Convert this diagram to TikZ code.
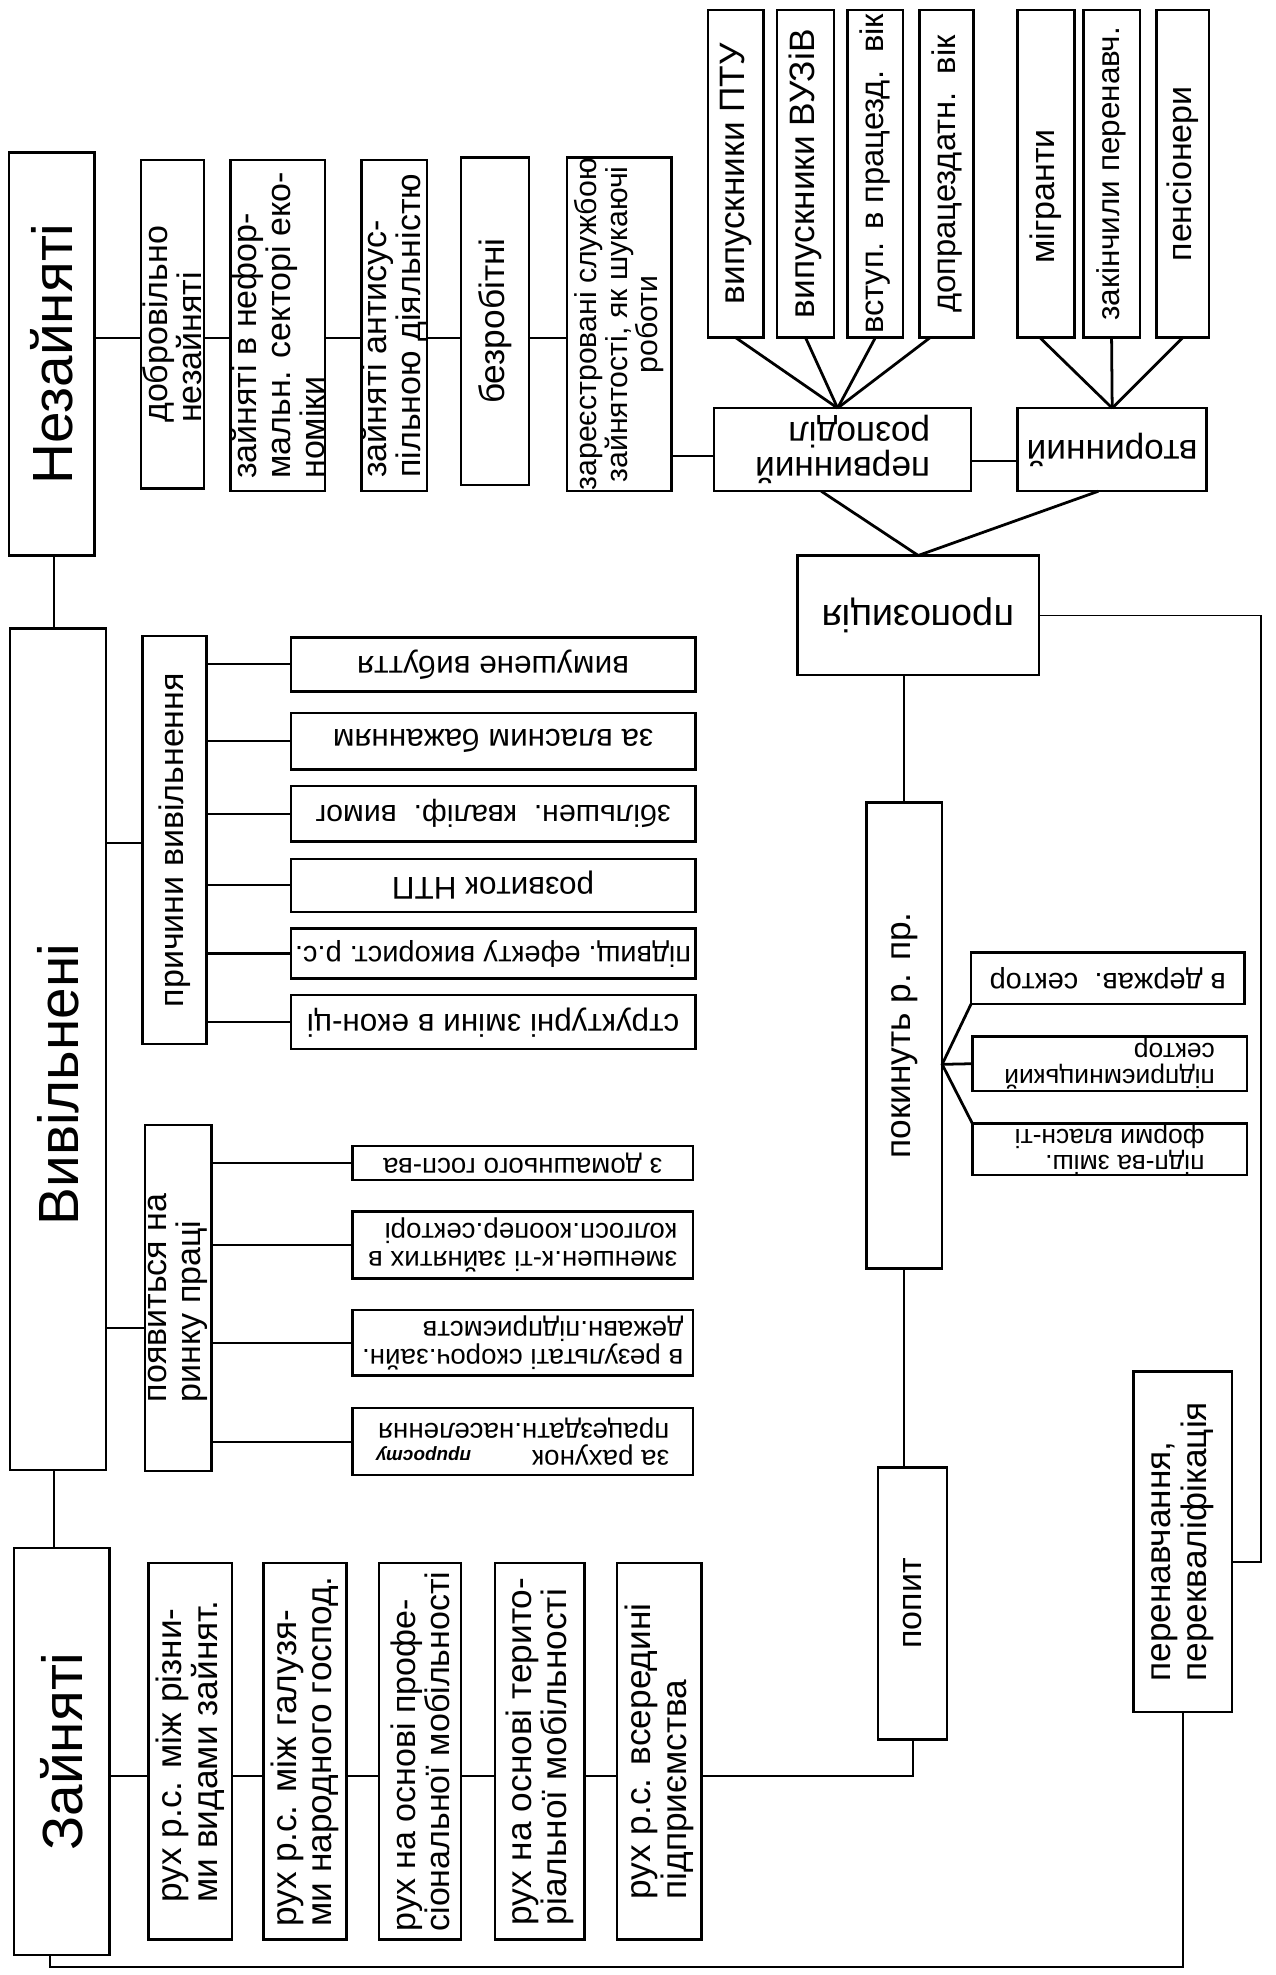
\documentclass[tikz,border=0pt]{standalone}
\usepackage{fontspec}
\setmainfont{Liberation Sans}
\usetikzlibrary{calc}
\newcommand\fs[1]{\fontsize{#1}{#1}\selectfont}
\tikzset{
  bx/.style={draw, line width=2pt, inner sep=0pt, outer sep=0pt},
  ln/.style={line width=1.6pt},
  thk/.style={line width=2.2pt},
  thn/.style={line width=1.1pt},
}
% box with text reading bottom-to-top
\newcommand\bxv[8][align=center]{%
  \node[bx, minimum width=#5, minimum height=#6] (#2) at (#3,#4) {};
  \node[#1, rotate=90, font=\fs{#7}, inner sep=0pt] (#2-t) at (#2.center) {#8};}
% box with upside-down text
\newcommand\bxu[8][align=left]{%
  \node[bx, minimum width=#5, minimum height=#6] (#2) at (#3,#4) {};
  \node[#1, rotate=180, font=\fs{#7}, inner sep=0pt] (#2-t) at (#2.center) {#8};}
\begin{document}
\begin{tikzpicture}[x=1pt,y=-1pt]
\path[use as bounding box, fill=white] (0,0) rectangle (1013,1568);

% ---- Незайняті group
\bxv{nez}{41}{281}{68}{320}{45}{Незайняті}
\bxv[align=left]{dobr}{137}{257.5}{50}{261}{27}{добровільно\\незайняті}
\bxv[align=left]{nefo}{220.5}{258.5}{75}{263}{27}{зайняті в нефор-\\мальн. секторі еко-\\номіки}
\bxv[align=left]{anti}{313}{258.5}{52}{263}{27}{зайняті антисус-\\пільною діяльністю}
\bxv{bezr}{393}{255}{54}{260}{28}{безробітні}
\bxv{zare}{491.5}{257.5}{83}{265}{24}{зареєстровані службою\\зайнятості, як шукаючі\\роботи}

% ---- top sources
\bxv{ptu}{584}{138}{44}{260}{28}{випускники ПТУ}
\bxv{vuz}{639.5}{138}{45}{260}{28}{випускники ВУЗіВ}
\bxv{vst}{695}{138}{44}{260}{26}{вступ. в працезд.\ \ вік}
\bxv{dop}{751.5}{138}{43}{260}{26}{допрацездатн.\ \ вік}
\bxv[align=center, yshift=-18pt]{migr}{830.5}{138}{45}{260}{27}{мігранти}
\bxv{zak}{882.5}{138}{45}{260}{25}{закінчили перенавч.}
\bxv{pens}{939}{138}{42}{260}{27}{пенсіонери}

\bxu{perv}{669}{357}{204}{66}{28}{первинний\\розподіл}
\bxu{vtor}{883}{357}{150}{66}{28}{вторинний}
\bxu{prop}{729}{488.5}{192}{95}{30}{пропозиція}

\bxv{pokin}{718}{822}{60}{370}{28}{покинуть р. пр.}
\bxu{derzh}{879.5}{776.5}{217}{41}{23}{в держав.\ \ сектор}
\bxu{pidpr}{881}{844.5}{218}{43}{21}{підприємницький\\сектор}
\bxu{zmish}{881}{912.5}{218}{41}{21}{підп-ва зміш.\\форми власн-ті}
\bxv{popyt}{724.5}{1273}{55}{216}{27}{попит}
\bxv[align=left]{pere}{939}{1224}{78}{270}{28}{перенавчання,\\перекваліфікація}

% ---- Вивільнені group
\bxv[align=center, yshift=-28pt]{vyv}{46}{833}{76}{668}{45}{Вивільнені}
\bxv{prych}{138.5}{667}{51}{324}{27}{причини вивільнення}
\bxu{vym}{391.5}{527.5}{321}{43}{25}{вимушене вибуття}
\bxu{vlas}{391.5}{588.5}{321}{45}{25}{за власним бажанням}
\bxu{zbil}{391.5}{646}{321}{44}{24}{збільшен.\ \ кваліф.\ \ вимог}
\bxu{rozv}{391.5}{703}{321}{42}{25}{розвиток НТП}
\bxu{pidv}{391.5}{757}{321}{40}{23}{підвищ.\ ефекту використ.\ р.с.}
\bxu{strk}{391.5}{811.5}{321}{43}{25}{структурні зміни в екон-ці}

\bxv[align=left]{poyav}{141.5}{1030.5}{53}{275}{27}{появиться на\\ринку праці}
\bxu{domash}{415}{923.5}{270}{27}{22}{з домашнього госп-ва}
\bxu{zmen}{415}{988.5}{270}{53}{22}{зменшен.к-ті зайнятих в\\колгосп.коопер.секторі}
\bxu{rezu}{415}{1066}{270}{52}{22}{в результаті скороч.зайн.\\дежавн.підприємств}
\bxu{rahu}{415}{1144.5}{270}{53}{22}{за рахунок\hspace{2.2em}{\fs{15}\itshape\bfseries приросту}\\працездатн.населення}

% ---- Зайняті group
\bxv{zain}{49}{1390.5}{76}{323}{45}{Зайняті}
\bxv[align=left]{ruh1}{151}{1390.5}{66}{299}{28}{рух р.с. між різни-\\ми видами зайнят.}
\bxv[align=left]{ruh2}{242}{1390.5}{66}{299}{28}{рух р.с. між галузя-\\ми народного господ.}
\bxv[align=left]{ruh3}{333.5}{1390.5}{65}{299}{27}{рух на основі профе-\\сіональної мобільності}
\bxv[align=left]{ruh4}{428.5}{1390.5}{71}{299}{28}{рух на основі терито-\\ріальної мобільності}
\bxv[align=left]{ruh5}{523.5}{1390.5}{67}{299}{28}{рух р.с. всередині\\підприємства}

% ---- connectors
\foreach \a/\b in {nez/dobr,dobr/nefo,nefo/anti,anti/bezr,bezr/zare}
  \draw[ln] (\a.east |- 0,268) -- (\b.west |- 0,268);
\draw[ln] (zare.east |- 0,362) -- (perv.west |- 0,362);
\draw[ln] (perv.east |- 0,366) -- (vtor.west |- 0,366);

\coordinate (pc) at ($(perv.north)+(-4,0)$);
\draw[thk] (ptu.south) -- (pc);
\draw[thk] (vuz.south) -- (pc);
\draw[thk] (vst.south) -- (pc);
\draw[thk] ($(dop.south)+(-13,0)$) -- (pc);
\draw[thk] ($(migr.south)+(-5,0)$) -- (vtor.north);
\draw[thk] (zak.south) -- (vtor.north);
\draw[thk] (pens.south) -- (vtor.north);
\draw[thk] ($(perv.south)+(-17,0)$) -- (prop.north) -- ($(vtor.south)+(-11,0)$);

\draw[ln] (pokin.north |- prop.south) -- (pokin.north);
\draw[ln] (pokin.south) -- (pokin.south |- popyt.north);
\coordinate (pf) at (pokin.east |- 0,845);
\draw[thk] (derzh.south west) -- (pf) -- (zmish.north west);
\draw[thk] (pf) -- (pidpr.west);

\coordinate (rc) at (1001,1240);
\draw[thn] (prop.east) -| (rc) -- (pere.east |- rc);
\coordinate (bl) at (40,1562);
\draw[ln] (zain.south -| bl) -- (bl) -| (pere.south);

\draw[ln] (nez.south -| 43,0) -- (vyv.north -| 43,0);
\draw[ln] (vyv.south -| 43,0) -- (zain.north -| 43,0);

\draw[ln] (vyv.east |- 0,669) -- (prych.west |- 0,669);
\foreach \b in {vym,vlas,zbil,rozv,pidv,strk}
  \draw[ln] (prych.east |- \b.west) -- (\b.west);
\draw[ln] (vyv.east |- 0,1054) -- (poyav.west |- 0,1054);
\foreach \b in {domash,zmen,rezu,rahu}
  \draw[ln] (poyav.east |- \b.west) -- (\b.west);

\foreach \a/\b in {zain/ruh1,ruh1/ruh2,ruh2/ruh3,ruh3/ruh4,ruh4/ruh5}
  \draw[ln] (\a.east |- 0,1410) -- (\b.west |- 0,1410);
\draw[ln] (ruh5.east |- 0,1410) -| (popyt.south);
\end{tikzpicture}
\end{document}
